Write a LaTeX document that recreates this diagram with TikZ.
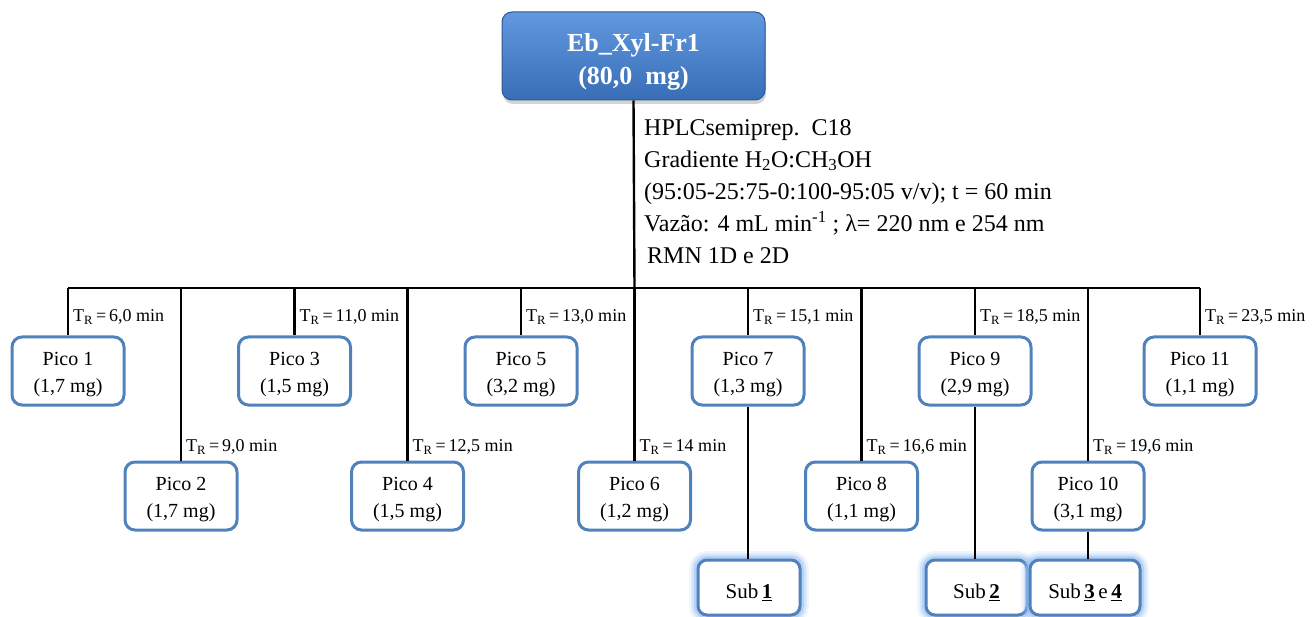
\documentclass[tikz,border=0pt]{standalone}
\usepackage{fontspec}
\setmainfont{Liberation Serif}
\usetikzlibrary{shadows}
\definecolor{boxblue}{RGB}{79,129,189}
\definecolor{topA}{RGB}{98,152,222}
\definecolor{topB}{RGB}{55,110,182}
\definecolor{glow}{RGB}{150,190,240}
\tikzset{
  pico/.style={draw=boxblue, line width=3pt, rounded corners=10pt, fill=white,
    minimum width=112pt, minimum height=68pt, inner sep=0pt},
  picotext/.style={align=center, font=\fontsize{20}{27}\selectfont, inner sep=0pt, yshift=-4pt},
  subbox/.style={draw=boxblue, line width=3pt, rounded corners=9pt, fill=white,
    minimum height=55pt, inner sep=0pt, font=\fontsize{21}{25}\selectfont,
    text depth=0pt, text height=22pt,
    preaction={draw=glow, line width=18pt, opacity=0.15},
    preaction={draw=glow, line width=13pt, opacity=0.3},
    preaction={draw=glow, line width=8pt, opacity=0.5}},
  topbox/.style={draw=topB!80!black, line width=1pt, rounded corners=10pt,
    top color=topA, bottom color=topB, minimum width=263pt, minimum height=88pt,
    drop shadow={shadow xshift=1pt, shadow yshift=-4pt, opacity=0.35}},
  toptext/.style={align=center, text=white, font=\fontsize{26}{33}\selectfont\bfseries,
    inner sep=0pt, yshift=-6pt},
  tr/.style={anchor=west, inner sep=0pt, font=\fontsize{18}{20}\selectfont},
  link/.style={line width=2.4pt, black}
}
\newcommand{\TR}[1]{T\textsubscript{R}\,=\,#1}
\begin{document}
\begin{tikzpicture}[x=1pt,y=-1pt]
\useasboundingbox (0,0) rectangle (1314,617);

\node[topbox] (top) at (633.5,56) {};
\node[toptext] (toptxt) at (top) {Eb\_Xyl-Fr1\\(80,0\ \ mg)};

\node[anchor=north west, align=left, inner sep=0pt,
      font=\fontsize{24}{32}\selectfont] (cond) at (644,119)
  {HPLCsemiprep.\ \ C18\\
   Gradiente H\textsubscript{2}O:CH\textsubscript{3}OH\\
   (95:05-25:75-0:100-95:05 v/v); t = 60 min\\
   Vazão: 4 mL min\textsuperscript{-1} ; λ= 220 nm e 254 nm\\
   \hspace{3pt}RMN 1D e 2D};

\coordinate (junc) at (634.5,288);
\foreach \i/\x in {1/68,2/181,3/294.5,4/407.5,5/521,6/634.5,7/748,8/861.5,9/975,10/1088,11/1200}{
  \coordinate (bar\i) at (\x,288);
}

% top row (odd)
\foreach \i/\x/\t in {1/68/{6,0 min},3/294.5/{11,0 min},5/521/{13,0 min},7/748/{15,1 min},9/975/{18,5 min},11/1200/{23,5 min}}{
  \node[pico] (p\i) at (\x,371) {};
  \node[tr] (t\i) at (\x+5,317) {\TR{\t}};
}
% bottom row (even)
\foreach \i/\x/\t in {2/181/{9,0 min},4/407.5/{12,5 min},6/634.5/{14 min},8/861.5/{16,6 min},10/1088/{19,6 min}}{
  \node[pico] (p\i) at (\x,496) {};
  \node[tr] (t\i) at (\x+5,447) {\TR{\t}};
}
\node[picotext] (pt1) at (p1) {Pico 1\\(1,7 mg)};
\node[picotext] (pt2) at (p2) {Pico 2\\(1,7 mg)};
\node[picotext] (pt3) at (p3) {Pico 3\\(1,5 mg)};
\node[picotext] (pt4) at (p4) {Pico 4\\(1,5 mg)};
\node[picotext] (pt5) at (p5) {Pico 5\\(3,2 mg)};
\node[picotext] (pt6) at (p6) {Pico 6\\(1,2 mg)};
\node[picotext] (pt7) at (p7) {Pico 7\\(1,3 mg)};
\node[picotext] (pt8) at (p8) {Pico 8\\(1,1 mg)};
\node[picotext] (pt9) at (p9) {Pico 9\\(2,9 mg)};
\node[picotext] (pt10) at (p10) {Pico 10\\(3,1 mg)};
\node[picotext] (pt11) at (p11) {Pico 11\\(1,1 mg)};

\node[subbox, minimum width=102pt] (s1) at (749,587.5) {Sub\,\textbf{\underline{1}}};
\node[subbox, minimum width=101pt] (s2) at (976.5,587.5) {Sub\,\textbf{\underline{2}}};
\node[subbox, minimum width=110pt] (s3) at (1085,587.5) {Sub\,\textbf{\underline{3}}\,e\,\textbf{\underline{4}}};

\draw[link] (top.south) -- (junc);
\draw[link] (bar1) -- (bar11);
\foreach \i in {1,...,11}{
  \draw[link] (bar\i) -- (p\i.north);
}
\draw[link] (p7.south) -- (p7.south |- s1.north);
\draw[link] (p9.south) -- (p9.south |- s2.north);
\draw[link] (p10.south) -- (p10.south |- s3.north);
\end{tikzpicture}
\end{document}
